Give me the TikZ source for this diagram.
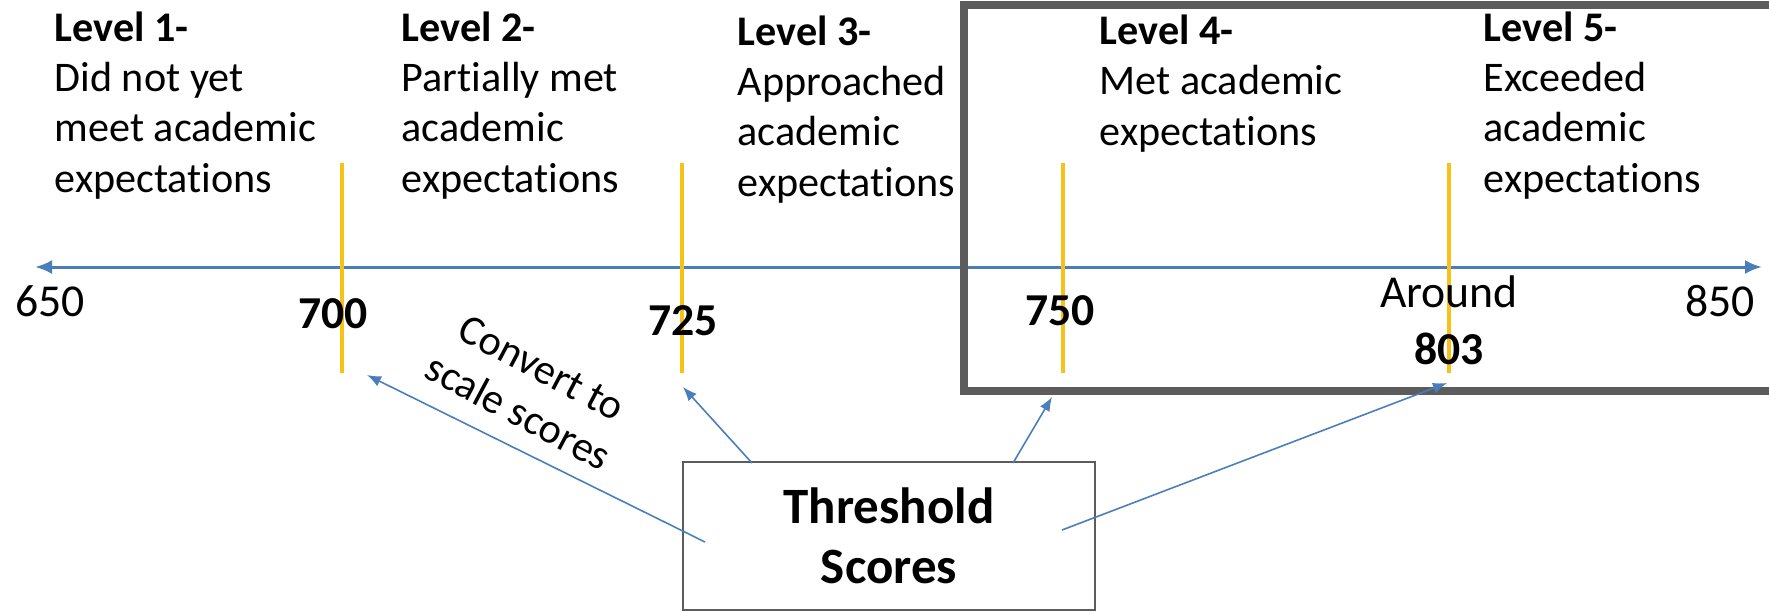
\documentclass[tikz,border=0pt]{standalone}
\usepackage{fontspec}
\setmainfont{Carlito}[Ligatures={NoCommon,NoContextual,NoRare}]
\usetikzlibrary{arrows.meta}

\definecolor{MBlue}{HTML}{4A7EBB}
\definecolor{MGold}{HTML}{F8C118}
\definecolor{MGray}{HTML}{5C5C5C}

\begin{document}
\begin{tikzpicture}[x=0.1mm, y=-0.1mm,
		level/.style={anchor=base west, align=left, inner sep=0pt, font=\fontsize{12}{14.3}\selectfont},
		score/.style={anchor=base, align=center, inner sep=0pt, font=\fontsize{13}{16}\selectfont},
		tickline/.style={MGold, line width=1.3pt},
		pointer/.style={MBlue, line width=0.45pt, -{Latex[length=1.4mm,width=1.1mm]}}]
			\useasboundingbox (0,0) rectangle (1769,611);
			
			% the score axis
			\coordinate (lo) at (35,267);
			\coordinate (hi) at (1762,267);
			\draw[MBlue, line width=0.85pt, {Latex[length=1.7mm,width=1.4mm]}-{Latex[length=1.7mm,width=1.4mm]}] (lo) -- (hi);
			
			% cut points
			\foreach \name/\xx in {t700/342, t725/682, t750/1063, t803/1449}{
				\draw[tickline] (\xx,163) -- (\xx,373);
				\coordinate (\name) at (\xx,373);
			}
			
			% frame around levels 4 and 5
			\draw[MGray, line width=2.1pt] (1769,5) -| (964,391) -- (1769,391);
			
			% base anchor = last line of each label
			\node[level] (lv1) at (54,192) {\textbf{Level 1-}\\Did not yet\\meet academic\\expectations};
			\node[level] (lv2) at (401,192) {\textbf{Level 2-}\\Partially met\\academic\\expectations};
			\node[level] (lv3) at (737,196) {\textbf{Level 3-}\\Approached\\academic\\expectations};
			\node[level] (lv4) at (1099,145) {\textbf{Level 4-}\\Met academic\\expectations};
			\node[level] (lv5) at (1483,192) {\textbf{Level 5-}\\Exceeded\\academic\\expectations};
			
			\node[score] (n650) at (50,316) {650};
			\node[score] (n700) at (333,328) {\textbf{700}};
			\node[score] (n725) at (683,335) {\textbf{725}};
			\node[score] (n750) at (1060,325) {\textbf{750}};
			\node[score] (n803) at (1449,364) {Around\\\textbf{803}};
			\node[score] (n850) at (1720,316) {850};
			
			\node[draw=MGray, line width=0.6pt, minimum width=41.2mm, minimum height=14.8mm, align=center,
				font=\fontsize{14.5}{17}\selectfont\bfseries] (th) at (889,536) {Threshold\\Scores};
			
			\node[rotate=-28, align=center, inner sep=0pt, font=\fontsize{12}{14.3}\selectfont] (conv) at (530,390) {Convert to\\scale scores};
			
			\coordinate (s1) at (705,542);
			\coordinate (s2) at (752,463);
			\coordinate (s3) at (1013,463);
			\coordinate (s4) at (1062,530);
			
			\draw[pointer] (s1) -- ([shift={(25,2)}]t700);
			\draw[pointer] (s2) -- ([shift={(1,14)}]t725);
			\draw[pointer] (s3) -- ([shift={(-11,24)}]t750);
			\draw[pointer] (s4) -- ([shift={(-2,10)}]t803);
			
		\end{tikzpicture}
\end{document}
